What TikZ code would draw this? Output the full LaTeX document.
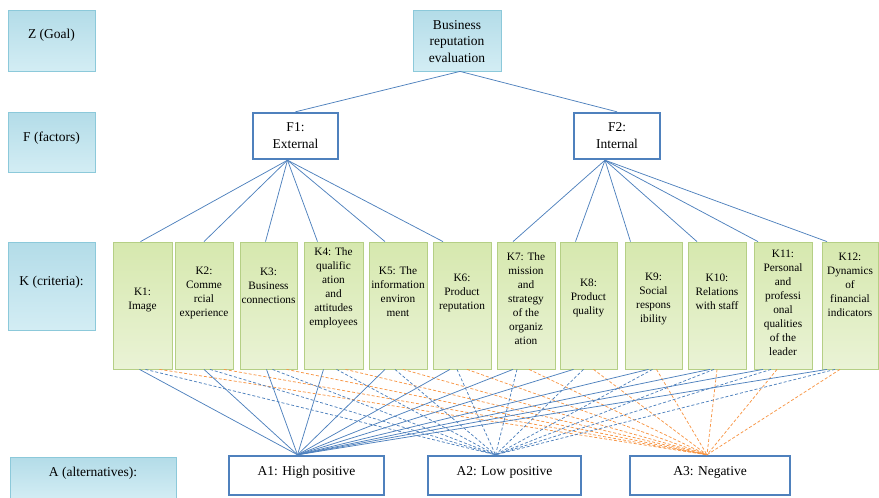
\documentclass[tikz,border=0pt]{standalone}
\usepackage{fontspec}
\setmainfont{Liberation Serif}
\usetikzlibrary{calc}
\definecolor{bl}{HTML}{4F81BD}
\definecolor{org}{HTML}{F79646}
\definecolor{aquaB}{HTML}{8CC9DA}
\definecolor{aquaT}{HTML}{B3DCE8}
\definecolor{aquaD}{HTML}{D3EDF4}
\definecolor{shd}{HTML}{E2E2E2}
\definecolor{grB}{HTML}{B5CF85}
\definecolor{grT}{HTML}{D6E8AE}
\definecolor{grD}{HTML}{EAF3D6}
\tikzset{
  lblbox/.style={draw=aquaB, line width=0.8pt, top color=aquaT, bottom color=aquaD, inner sep=0pt},
  kbox/.style={draw=grB, line width=0.8pt, top color=grT, bottom color=grD, inner sep=0pt, minimum height=127pt},
  fbox/.style={draw=bl, line width=2.4pt, fill=white, inner sep=0pt},
  bigtext/.style={align=center, inner sep=0pt, font=\fontsize{13.5}{16.5}\selectfont},
  ktext/.style={align=center, inner sep=0pt, font=\fontsize{11.3}{14}\selectfont},
  conn/.style={draw=bl, line width=0.75pt},
  bconn/.style={draw=bl, line width=0.75pt, dash pattern=on 3pt off 2pt},
  oconn/.style={draw=org, line width=0.75pt, dash pattern=on 3pt off 2pt},
}
\begin{document}
\begin{tikzpicture}[x=1pt,y=-1pt]
\useasboundingbox (0,0) rectangle (879,498);
% left labels
\node[lblbox, minimum width=87pt, minimum height=61pt] (Zl) at (51.5,40.5) {};
\node[bigtext] (Zlt) at (51.5,35) {Z (Goal)};
\node[lblbox, minimum width=87pt, minimum height=60pt] (Fl) at (51.5,142) {};
\node[bigtext] (Flt) at (51.5,138) {F (factors)};
\node[lblbox, minimum width=87pt, minimum height=88pt] (Kl) at (51.5,286) {};
\node[bigtext] (Klt) at (51.5,282) {K (criteria):};
\node[lblbox, minimum width=166pt, minimum height=42pt] (Al) at (93,478) {};
\node[bigtext] (Alt) at (93,473) {A (alternatives):};
% goal
\node[lblbox, minimum width=88pt, minimum height=61pt] (G) at (457,40.5) {};
\node[bigtext] (Gt) at (457,41.5) {Business\\reputation\\evaluation};
% factors
\node[fbox, minimum width=85pt, minimum height=46pt] (F1) at (295.5,136) {};
\node[bigtext] (F1t) at (295.5,135.5) {F1:\\External};
\node[fbox, minimum width=86pt, minimum height=46pt] (F2) at (617,136) {};
\node[bigtext] (F2t) at (617,135.5) {F2:\\Internal};
% criteria
\foreach \k/\cx/\w/\ty/\txt in {
  1/142.5/59/299.5/{K1:\\Image},
  2/204/58/292.5/{K2:\\Comme\\rcial\\experience},
  3/268.5/57/285.5/{K3:\\Business\\connections},
  4/333.5/59/288/{K4: The\\qualific\\ation\\and\\attitudes\\employees},
  5/398/58/292/{K5: The\\information\\environ\\ment},
  6/462/58/292.5/{K6:\\Product\\reputation},
  7/526/58/299/{K7: The\\mission\\and\\strategy\\of the\\organiz\\ation},
  8/588.5/57/298/{K8:\\Product\\quality},
  9/653.5/57/299/{K9:\\Social\\respons\\ibility},
  10/717/58/292/{K10:\\Relations\\with staff},
  11/783/58/302.5/{K11:\\Personal\\and\\professi\\onal\\qualities\\of the\\leader},
  12/850/56/285/{K12:\\Dynamics\\of\\financial\\indicators}}{
  \node[kbox, minimum width=\w pt] (K\k) at (\cx,305.5) {};
  \node[ktext] (K\k t) at (\cx,\ty) {\txt};
}
% alternatives
\node[fbox, minimum width=155pt, minimum height=39pt] (A1) at (306.5,475.5) {};
\node[bigtext] (A1t) at (306.5,472) {A1: High positive};
\node[fbox, minimum width=153pt, minimum height=39pt] (A2) at (504.5,475.5) {};
\node[bigtext] (A2t) at (504.5,472) {A2: Low positive};
\node[fbox, minimum width=160pt, minimum height=39pt] (A3) at (710,475.5) {};
\node[bigtext] (A3t) at (710,472) {A3: Negative};
% goal to factors
\draw[conn] ($(G.south)+(3,0)$) -- (F1.north);
\draw[conn] ($(G.south)+(3,0)$) -- (F2.north);
% factors to criteria, criteria to alternatives
\foreach \k/\p/\q/\kt/\sa/\sb/\sc in {
  1/F1/-8/-2/-3/3/17,
  2/F1/-8/0/0/6/20,
  3/F1/-8/-3/-2/4/18,
  4/F1/-8/-16/-10/3/12,
  5/F1/-8/-13/-13/-3/5,
  6/F1/-8/-19/-12/-5/5,
  7/F2/-12/-13/-13/-9/3,
  8/F2/-12/-13/-15/-5/5,
  9/F2/-12/-23/-5/-1/3,
  10/F2/-12/-20/-7/-3/0,
  11/F2/-12/-25/-20/-12/-6,
  12/F2/-12/-23/-23/-15/-10}{
  \draw[conn] ($(\p.south)+(\q,0)$) -- ($(K\k.north)+(\kt,0)$);
  \draw[conn] ($(K\k.south)+(\sa,0)$) -- ($(A1.north)+(-9,0)$);
  \draw[bconn] ($(K\k.south)+(\sb,0)$) -- ($(A2.north)+(-9,0)$);
  \draw[oconn] ($(K\k.south)+(\sc,0)$) -- ($(A3.north)+(-3,0)$);
}
\end{tikzpicture}
\end{document}
